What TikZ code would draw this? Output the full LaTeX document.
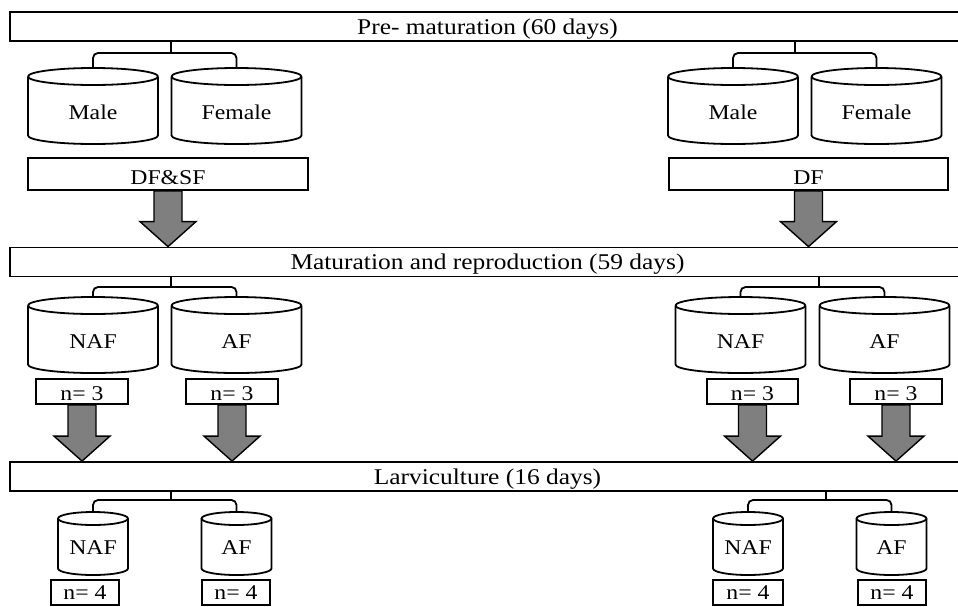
\documentclass[tikz,border=0pt]{standalone}
\usepackage{fontspec}
\setmainfont{Liberation Serif}[FakeStretch=1.13]
\usetikzlibrary{calc}

\definecolor{arrowgray}{RGB}{127,127,127}
\tikzset{
  stage/.style={draw,line width=1.8pt,minimum width=955pt,minimum height=29pt,inner sep=0pt,
    text height=15pt,text depth=0pt,font=\fontsize{22.5}{24}\selectfont},
  tankbox/.style={inner sep=0pt,outer sep=0pt,text height=26pt,text depth=0pt,
    font=\fontsize{21}{24}\selectfont},
  tankline/.style={line width=1.8pt,line join=round},
  diet/.style={draw,line width=1.8pt,minimum height=32pt,inner sep=0pt,
    text height=20pt,text depth=0pt,font=\fontsize{21}{24}\selectfont},
  count/.style={diet,minimum height=25pt,text height=18pt},
  bracket/.style={line width=1.8pt,rounded corners=5pt},
  fatarrow/.style={draw,line width=1.4pt,fill=arrowgray,line join=miter}
}
% name, position, width, height, ellipse radius, text
\newcommand{\tank}[6]{%
  \node[tankbox,minimum width=#3,minimum height=#4] (#1) at (#2) {#6};
  \draw[tankline] ([yshift=-#5]#1.north) ellipse [x radius=#3/2,y radius=#5];
  \draw[tankline] ([yshift=-#5]#1.north west) -- ([yshift=#5]#1.south west)
    arc[start angle=180,end angle=360,x radius=#3/2,y radius=#5] -- ([yshift=-#5]#1.north east);}
\newcommand{\fatarrow}[2]{%
  \draw[fatarrow] let \p1=(#1.south), \p2=(#2.north) in
    (\x1-14pt,\y1) -- (\x1-14pt,\y2+25pt) -- (\x1-28pt,\y2+25pt) -- (\x1,\y2)
    -- (\x1+28pt,\y2+25pt) -- (\x1+14pt,\y2+25pt) -- (\x1+14pt,\y1) -- cycle;}

\begin{document}
\begin{tikzpicture}[x=1pt,y=-1pt]
  \useasboundingbox (0,0) rectangle (958,606);

  % stages
  \node[stage] (pre) at (487.5,26.5) {Pre- maturation (60 days)};
  \node[stage] (mat) at (487.5,262) {Maturation and reproduction (59 days)};
  \node[stage] (larv) at (487.5,476.5) {Larviculture (16 days)};

  % pre-maturation tanks
  \tank{maleL}{93,106}{130pt}{76pt}{8.5pt}{Male}
  \tank{femL}{236.5,106}{130pt}{76pt}{8.5pt}{Female}
  \tank{maleR}{733,106}{130pt}{76pt}{8.5pt}{Male}
  \tank{femR}{876.5,106}{130pt}{76pt}{8.5pt}{Female}
  \node[diet,minimum width=280pt] (dfsf) at (168,174) {DF\&SF};
  \node[diet,minimum width=279pt] (df) at (808.5,174) {DF};

  % maturation tanks
  \tank{nafL}{93,335}{130pt}{76pt}{8.5pt}{NAF}
  \tank{afL}{236.5,335}{130pt}{76pt}{8.5pt}{AF}
  \tank{nafR}{740.5,335}{130pt}{76pt}{8.5pt}{NAF}
  \tank{afR}{884.5,335}{130pt}{76pt}{8.5pt}{AF}
  \node[count,minimum width=92pt] (nA) at (82,391.5) {n= 3};
  \node[count,minimum width=92pt] (nB) at (232,391.5) {n= 3};
  \node[count,minimum width=91pt] (nC) at (752.5,391.5) {n= 3};
  \node[count,minimum width=92pt] (nD) at (896,391.5) {n= 3};

  % larviculture tanks
  \tikzset{tankbox/.append style={text height=22pt}}
  \tank{lnafL}{93,543.5}{70pt}{63pt}{6.5pt}{NAF}
  \tank{lafL}{236.5,543.5}{70pt}{63pt}{6.5pt}{AF}
  \tank{lnafR}{748,543.5}{70pt}{63pt}{6.5pt}{NAF}
  \tank{lafR}{891.5,543.5}{70pt}{63pt}{6.5pt}{AF}
  \node[count,minimum width=68pt,text height=14pt] (mA) at (85,592.5) {n= 4};
  \node[count,minimum width=68pt,text height=14pt] (mB) at (236,592.5) {n= 4};
  \node[count,minimum width=70pt,text height=14pt] (mC) at (748,592.5) {n= 4};
  \node[count,minimum width=68pt,text height=14pt] (mD) at (892,592.5) {n= 4};

  % brackets
  \coordinate (j1) at (171,53);  \coordinate (j2) at (795,53);
  \coordinate (j3) at (171,287); \coordinate (j4) at (819,287);
  \coordinate (j5) at (171,500); \coordinate (j6) at (826,500);
  \foreach \s/\l/\r/\j in {pre/maleL/femL/j1,pre/maleR/femR/j2,mat/nafL/afL/j3,
      mat/nafR/afR/j4,larv/lnafL/lafL/j5,larv/lnafR/lafR/j6}{
    \draw[bracket] (\l.north) |- (\j) -| (\r.north);
    \draw[bracket] (\j) -- (\j |- \s.south);
  }

  % arrows
  \foreach \a/\b in {dfsf/mat,df/mat,nA/larv,nB/larv,nC/larv,nD/larv}
    \fatarrow{\a}{\b};
\end{tikzpicture}
\end{document}
